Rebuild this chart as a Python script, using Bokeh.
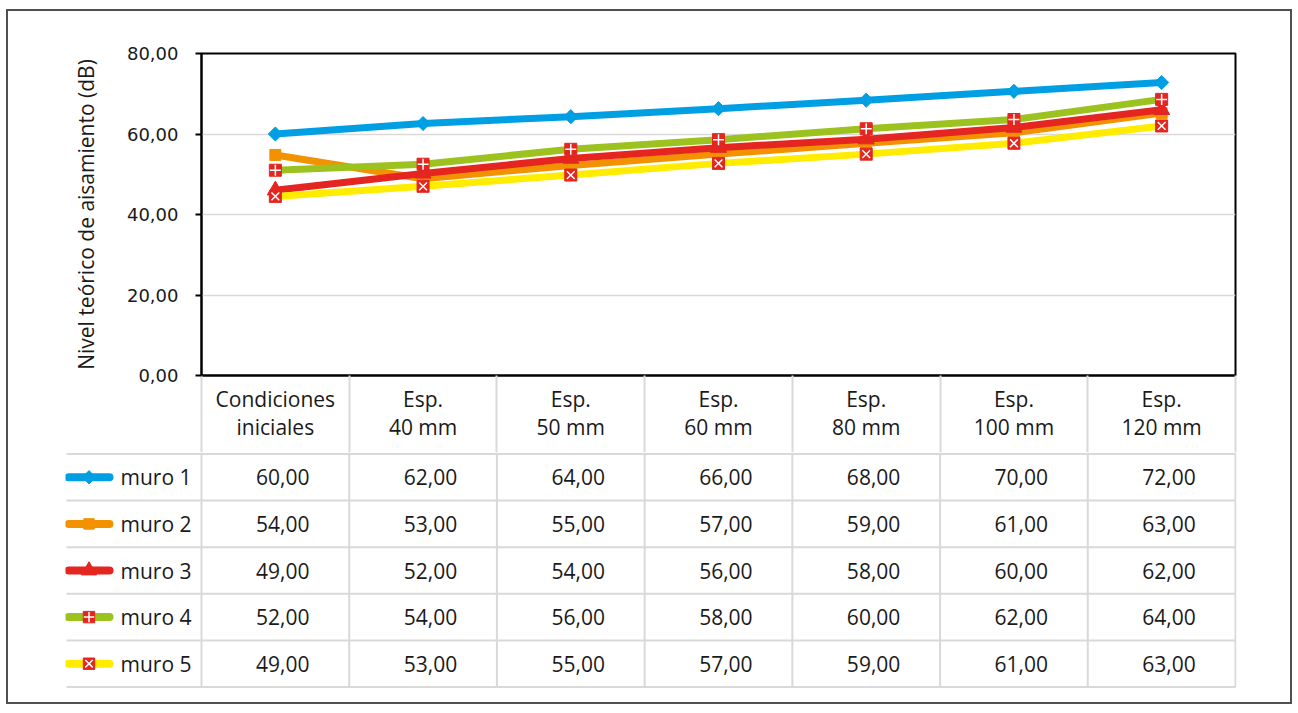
import numpy as np
from bokeh.plotting import figure
from bokeh.models import Range1d, FixedTicker, CustomJSTickFormatter
from bokeh.layouts import column
from bokeh.core.properties import value
from bokeh.embed import file_html
from bokeh.resources import INLINE

# ---------------- data ----------------
categories = ["Condiciones\niniciales", "Esp.\n40 mm", "Esp.\n50 mm", "Esp.\n60 mm",
              "Esp.\n80 mm", "Esp.\n100 mm", "Esp.\n120 mm"]
series_names = ["muro 1", "muro 2", "muro 3", "muro 4", "muro 5"]

# values as drawn by the lines of the chart
muro1 = [60.0, 62.6, 64.3, 66.3, 68.4, 70.6, 72.8]
muro2 = [54.8, 48.9, 52.2, 55.0, 57.7, 60.3, 65.2]
muro3 = [46.0, 50.2, 53.9, 56.6, 58.7, 61.6, 66.0]
muro4 = [51.0, 52.5, 56.2, 58.6, 61.3, 63.6, 68.6]
muro5 = [44.5, 47.0, 49.8, 52.7, 55.0, 57.7, 62.0]

# values printed in the data table
tabla_muro1 = [60, 62, 64, 66, 68, 70, 72]
tabla_muro2 = [54, 53, 55, 57, 59, 61, 63]
tabla_muro3 = [49, 52, 54, 56, 58, 60, 62]
tabla_muro4 = [52, 54, 56, 58, 60, 62, 64]
tabla_muro5 = [49, 53, 55, 57, 59, 61, 63]

y_ticks = [0, 20, 40, 60, 80]
y_title = "Nivel teórico de aisamiento (dB)"

# ---------------- styles ----------------
colors = ["#009fe3", "#f39200", "#e42520", "#9bc21f", "#ffec00"]
RED = "#e42520"
TXT = "#1a1a1a"
GRID = "#d9d9d9"
TFONT = "Open Sans"

W = 1282
FR_R = 55            # right border (both figures)
CH_L = 193           # chart frame left offset
CH_TOP = 42
CH_FRAME_H = 322
CH_BOTTOM = 77       # header row of the table (x axis labels)
CH_H = CH_TOP + CH_FRAME_H + CH_BOTTOM
TB_L = 58            # table frame left offset
TB_FRAME_H = 238
TB_BOTTOM = 12
TB_H = TB_FRAME_H + TB_BOTTOM
ROW_PX = 46.6

n = len(categories)
xs = list(range(n))
px_per_cat = (W - CH_L - FR_R) / n
tb_x0 = -0.5 - (CH_L - TB_L) / px_per_cat

# ---------------- chart ----------------
p = figure(width=W, height=CH_H, output_backend="svg", toolbar_location=None,
           x_range=Range1d(-0.5, n - 0.5), y_range=Range1d(0, 80),
           min_border_left=CH_L, min_border_right=FR_R,
           min_border_top=CH_TOP, min_border_bottom=CH_BOTTOM)
p.frame_align = False
p.outline_line_color = "black"
p.outline_line_width = 2
p.xgrid.visible = False
p.ygrid.grid_line_color = GRID
p.ygrid.grid_line_width = 1.5

p.yaxis.ticker = FixedTicker(ticks=y_ticks)
p.yaxis.formatter = CustomJSTickFormatter(code="return tick.toFixed(2).replace('.', ',');")
p.yaxis.axis_line_color = "black"
p.yaxis.axis_line_width = 2
p.yaxis.major_tick_line_color = "black"
p.yaxis.major_tick_line_width = 2
p.yaxis.major_tick_out = 6
p.yaxis.major_tick_in = 0
p.yaxis.minor_tick_line_color = None
p.yaxis.major_label_text_font = "DejaVu Sans"
p.yaxis.major_label_text_font_size = "18px"
p.yaxis.major_label_text_color = TXT
p.yaxis.major_label_standoff = 17
p.yaxis.axis_label = y_title
p.yaxis.axis_label_text_font = TFONT
p.yaxis.axis_label_text_font_size = "21px"
p.yaxis.axis_label_text_font_style = "normal"
p.yaxis.axis_label_text_color = TXT
p.yaxis.axis_label_standoff = 24

# x axis = header row of the data table
p.xaxis.ticker = FixedTicker(ticks=xs, minor_ticks=[i - 0.5 for i in range(n + 1)])
p.xaxis.major_label_overrides = {i: c for i, c in enumerate(categories)}
p.xaxis.axis_line_color = "black"
p.xaxis.axis_line_width = 2
p.xaxis.major_tick_line_color = None
p.xaxis.major_tick_out = 0
p.xaxis.major_tick_in = 0
p.xaxis.minor_tick_line_color = GRID
p.xaxis.minor_tick_line_width = 2
p.xaxis.minor_tick_out = CH_BOTTOM
p.xaxis.minor_tick_in = 0
p.xaxis.major_label_text_font = TFONT
p.xaxis.major_label_text_font_size = "21px"
p.xaxis.major_label_text_color = TXT
p.xaxis.major_label_standoff = -68
p.xaxis.major_label_text_line_height = 1.0

series = [muro1, muro2, muro3, muro4, muro5]


def draw_marker(fig, k, x, y, scale=1.0):
    c = colors[k]
    if k == 0:
        fig.scatter(x, y, marker="square", angle=np.pi / 4, size=10 * scale,
                    fill_color=c, line_color=c)
    elif k == 1:
        fig.scatter(x, y, marker="square", size=11 * scale, fill_color=c, line_color=c)
    elif k == 2:
        fig.scatter(x, y, marker="triangle", size=16 * scale, fill_color=c, line_color=c)
    elif k == 3:
        fig.scatter(x, y, marker="square", size=12 * scale, fill_color=RED, line_color=RED)
        fig.scatter(x, y, marker="cross", size=11 * scale, line_color="white", line_width=1.5)
    else:
        fig.scatter(x, y, marker="square", size=12 * scale, fill_color=RED, line_color=RED)
        fig.scatter(x, y, marker="x", size=11 * scale, line_color="white", line_width=1.5)


for k, vals in enumerate(series):
    p.line(xs, vals, line_width=7, line_color=colors[k], line_join="round")
    draw_marker(p, k, xs, vals)

# ---------------- data table (rows) ----------------
y_top = -1.5 / ROW_PX
t = figure(width=W, height=TB_H, output_backend="svg", toolbar_location=None,
           x_range=Range1d(tb_x0 - 1.0 / px_per_cat, n - 0.5 + 1.0 / px_per_cat),
           y_range=Range1d(y_top + TB_FRAME_H / ROW_PX, y_top),
           x_axis_location=None, y_axis_location=None,
           min_border_left=TB_L - 1, min_border_right=FR_R - 1,
           min_border_top=0, min_border_bottom=TB_BOTTOM)
t.frame_align = False
t.outline_line_color = None
t.grid.visible = False

nrows = len(series_names)
t.segment(x0=[-0.5 + j for j in range(n + 1)], y0=[y_top] * (n + 1),
          x1=[-0.5 + j for j in range(n + 1)], y1=[nrows] * (n + 1),
          line_color=GRID, line_width=2)
t.segment(x0=[tb_x0] * (nrows + 1), y0=list(range(nrows + 1)),
          x1=[n - 0.5] * (nrows + 1), y1=list(range(nrows + 1)),
          line_color=GRID, line_width=2)

tables = [tabla_muro1, tabla_muro2, tabla_muro3, tabla_muro4, tabla_muro5]
icon_x0 = tb_x0 + 2 / px_per_cat
icon_x1 = tb_x0 + 43 / px_per_cat
icon_xm = (icon_x0 + icon_x1) / 2
label_x = tb_x0 + 54 / px_per_cat
for k, row in enumerate(tables):
    yc = k + 0.5
    t.line([icon_x0, icon_x1], [yc, yc], line_width=8, line_color=colors[k], line_cap="round")
    draw_marker(t, k, [icon_xm], [yc], scale=0.95)
    t.text(x=[label_x], y=[yc], text=[series_names[k]], text_align="left",
           text_baseline="middle", text_font=value(TFONT),
           text_font_size=value("21px"), text_color=TXT)
    t.text(x=[i + 0.05 for i in xs], y=[yc] * n,
           text=[f"{v:.2f}".replace(".", ",") for v in row],
           text_align="center", text_baseline="middle", text_font=value(TFONT),
           text_font_size=value("21px"), text_color=TXT)

layout = column(p, t, styles={"border": "2px solid #505050", "margin-left": "6px",
                              "margin-top": "9px"})
open("out.html", "w").write(file_html(layout, INLINE))
